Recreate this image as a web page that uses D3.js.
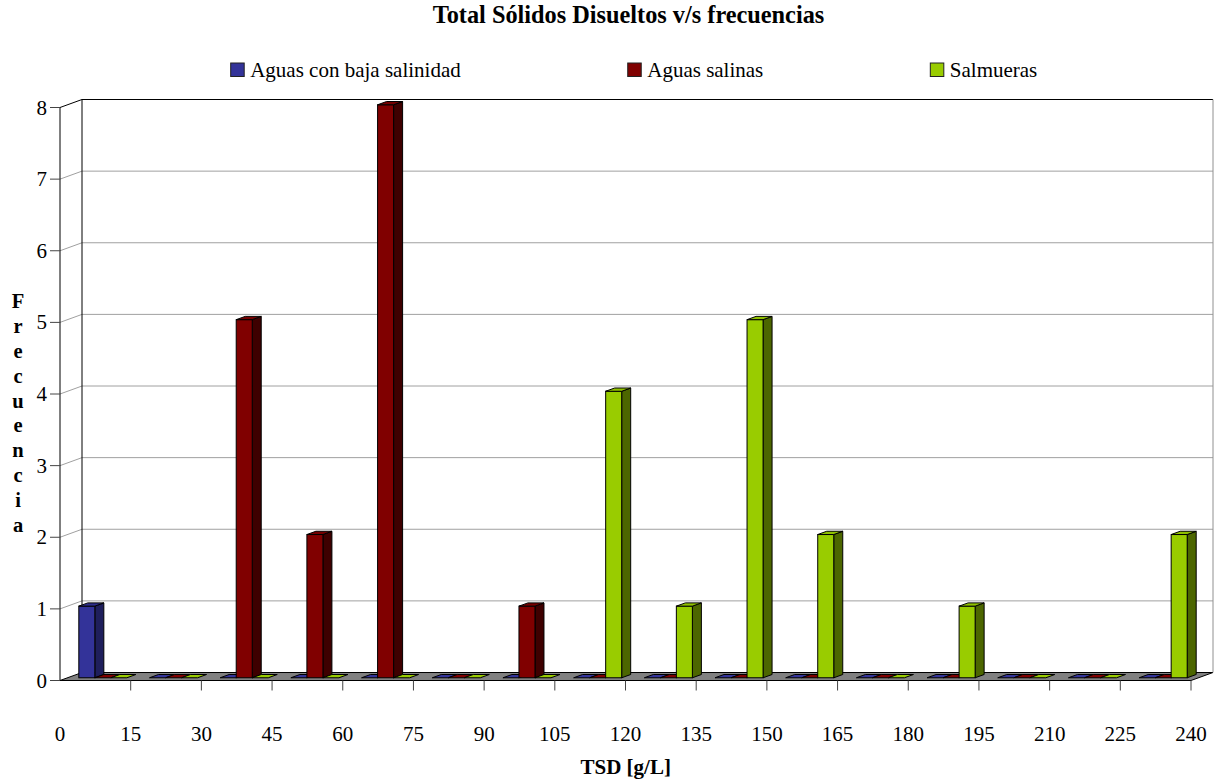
<!DOCTYPE html>
<html>
<head>
<meta charset="utf-8">
<script src="https://cdn.jsdelivr.net/npm/d3@7"></script>
<style>
  html, body { margin: 0; padding: 0; background: #fff; }
  svg { display: block; font-family: "Liberation Serif", "Times New Roman", serif; }
</style>
</head>
<body>
<svg id="chart" width="1214" height="779"></svg>
<script>
// ---- data ----
const categories = ["0", "15", "30", "45", "60", "75", "90", "105", "120", "135", "150", "165", "180", "195", "210", "225"];
const tickLabels = [0, 15, 30, 45, 60, 75, 90, 105, 120, 135, 150, 165, 180, 195, 210, 225, 240];
const seriesNames = ["Aguas con baja salinidad", "Aguas salinas", "Salmueras"];
const lowSalinity = [1, 0, 0, 0, 0, 0, 0, 0, 0, 0, 0, 0, 0, 0, 0, 0];
const saline      = [0, 0, 5, 2, 8, 0, 1, 0, 0, 0, 0, 0, 0, 0, 0, 0];
const brines      = [0, 0, 0, 0, 0, 0, 0, 4, 1, 5, 2, 0, 1, 0, 0, 2];
const yTicks = [0, 1, 2, 3, 4, 5, 6, 7, 8];

// ---- styles ----
const frontColors = ["#333399", "#800000", "#99CC00"];
const sideColors  = ["#1f1f5c", "#3e0000", "#4c6600"];
const topColors   = ["#2e2e8a", "#740000", "#8fc000"];

(function draw() {
  const svg = d3.select("#chart");
  const seriesValues = [lowSalinity, saline, brines];

  // plot frame (front plane) and depth offset of the walls
  const plotLeft = 60, plotRight = 1191, plotBottom = 680.5, plotTop = 107.5;
  const depthX = 22, depthY = -8;
  const slope = depthY / depthX;

  const x = d3.scaleBand().domain(categories).range([plotLeft, plotRight]).padding(0);
  const xEdge = d3.scaleLinear().domain([0, 240]).range([plotLeft, plotRight]);
  const y = d3.scaleLinear().domain([0, 8]).range([plotBottom, plotTop]);
  const inner = d3.scaleBand().domain(seriesNames).range([0, x.bandwidth()])
    .paddingInner(0).paddingOuter(0.706);

  const poly = pts => pts.map(p => p.join(",")).join(" ");

  // ---- walls and floor ----
  const g = svg.append("g");

  g.append("polygon")
    .attr("points", poly([[plotLeft, plotBottom], [plotRight, plotBottom],
      [plotRight + depthX, plotBottom + depthY], [plotLeft + depthX, plotBottom + depthY]]))
    .attr("fill", "#808080").attr("stroke", "#000").attr("stroke-width", 1);

  // back wall gridlines
  g.selectAll("line.grid").data(yTicks.filter(d => d > 0)).join("line")
    .attr("class", "grid")
    .attr("x1", plotLeft + depthX).attr("x2", plotRight + depthX)
    .attr("y1", d => y(d) + depthY).attr("y2", d => y(d) + depthY)
    .attr("stroke", d => d === 8 ? "#000" : "#a0a0a0").attr("stroke-width", 1);

  // side wall gridlines
  g.selectAll("line.sgrid").data(yTicks.filter(d => d > 0)).join("line")
    .attr("class", "sgrid")
    .attr("x1", plotLeft).attr("x2", plotLeft + depthX)
    .attr("y1", d => y(d)).attr("y2", d => y(d) + depthY)
    .attr("stroke", d => d === 8 ? "#000" : "#a0a0a0").attr("stroke-width", 1);

  // wall edges
  g.append("line").attr("x1", plotLeft + depthX).attr("x2", plotLeft + depthX)
    .attr("y1", y(8) + depthY).attr("y2", y(0) + depthY).attr("stroke", "#000");
  g.append("line").attr("x1", plotRight + depthX).attr("x2", plotRight + depthX)
    .attr("y1", y(8) + depthY).attr("y2", y(0) + depthY).attr("stroke", "#909090");
  g.append("line").attr("x1", plotLeft).attr("x2", plotLeft)
    .attr("y1", y(8)).attr("y2", y(0)).attr("stroke", "#000");

  // ---- bars ----
  const barShiftX = 7.5, barShiftY = barShiftX * slope;
  const barDepthX = 9, barDepthY = barDepthX * slope;
  const w = inner.bandwidth();

  const bars = [];
  categories.forEach((c, i) => {
    seriesNames.forEach((s, k) => {
      bars.push({ cat: c, series: s, k, value: seriesValues[k][i] });
    });
  });

  const barG = svg.append("g").selectAll("g").data(bars).join("g");
  barG.each(function(d) {
    const sel = d3.select(this);
    const x0 = x(d.cat) + inner(d.series) + barShiftX;
    const yb = y(0) + barShiftY;
    const yt = y(d.value) + barShiftY;
    if (d.value > 0) {
      sel.append("polygon")
        .attr("points", poly([[x0 + w, yt], [x0 + w + barDepthX, yt + barDepthY],
          [x0 + w + barDepthX, yb + barDepthY], [x0 + w, yb]]))
        .attr("fill", sideColors[d.k]).attr("stroke", "#000").attr("stroke-width", 1)
        .attr("stroke-linejoin", "round");
      sel.append("rect")
        .attr("x", x0).attr("y", yt).attr("width", w).attr("height", yb - yt)
        .attr("fill", frontColors[d.k]).attr("stroke", "#000").attr("stroke-width", 1);
    }
    sel.append("polygon")
      .attr("points", poly([[x0, yt], [x0 + w, yt], [x0 + w + barDepthX, yt + barDepthY],
        [x0 + barDepthX, yt + barDepthY]]))
      .attr("fill", d.value > 0 ? topColors[d.k] : frontColors[d.k])
      .attr("stroke", "#000").attr("stroke-width", 1).attr("stroke-linejoin", "round");
  });

  // ---- axes ----
  svg.append("g").selectAll("line").data(yTicks).join("line")
    .attr("x1", plotLeft - 10).attr("x2", plotLeft)
    .attr("y1", d => y(d)).attr("y2", d => y(d))
    .attr("stroke", "#444");
  svg.append("g").selectAll("text").data(yTicks).join("text")
    .attr("x", plotLeft - 13).attr("y", d => y(d) + 7)
    .attr("text-anchor", "end").attr("font-size", 21).attr("fill", "#000")
    .text(d => d);

  svg.append("line").attr("x1", plotLeft).attr("x2", plotRight)
    .attr("y1", plotBottom).attr("y2", plotBottom).attr("stroke", "#000");
  svg.append("g").selectAll("line").data(tickLabels.slice(1)).join("line")
    .attr("x1", d => xEdge(d)).attr("x2", d => xEdge(d))
    .attr("y1", plotBottom).attr("y2", plotBottom + 10)
    .attr("stroke", "#444");
  svg.append("g").selectAll("text").data(tickLabels).join("text")
    .attr("x", d => xEdge(d)).attr("y", 740.5)
    .attr("text-anchor", "middle").attr("font-size", 21).attr("fill", "#000")
    .text(d => d);

  // ---- titles ----
  svg.append("text").attr("x", 628.5).attr("y", 22.6)
    .attr("text-anchor", "middle").attr("font-size", 24.3).attr("font-weight", "bold")
    .text("Total Sólidos Disueltos v/s frecuencias");

  svg.append("text").attr("x", 625.7).attr("y", 774.3)
    .attr("text-anchor", "middle").attr("font-size", 21).attr("font-weight", "bold")
    .text("TSD [g/L]");

  const yLabel = "Frecuencia".split("");
  svg.append("g").selectAll("text").data(yLabel).join("text")
    .attr("x", 18).attr("y", (d, i) => 308.3 + i * 24.8)
    .attr("text-anchor", "middle").attr("font-size", 20.5).attr("font-weight", "bold")
    .text(d => d);

  // ---- legend ----
  const legend = svg.append("g");
  let lx = 230.7;
  seriesNames.forEach((name, k) => {
    legend.append("rect").attr("x", lx).attr("y", 63).attr("width", 13.5).attr("height", 13.5)
      .attr("fill", frontColors[k]).attr("stroke", "#222").attr("stroke-width", 1);
    const t = legend.append("text").attr("x", lx + 19.5).attr("y", 77.3)
      .attr("font-size", 21).text(name);
    lx = lx + 19.5 + t.node().getComputedTextLength() + 167;
  });
})();
</script>
</body>
</html>
